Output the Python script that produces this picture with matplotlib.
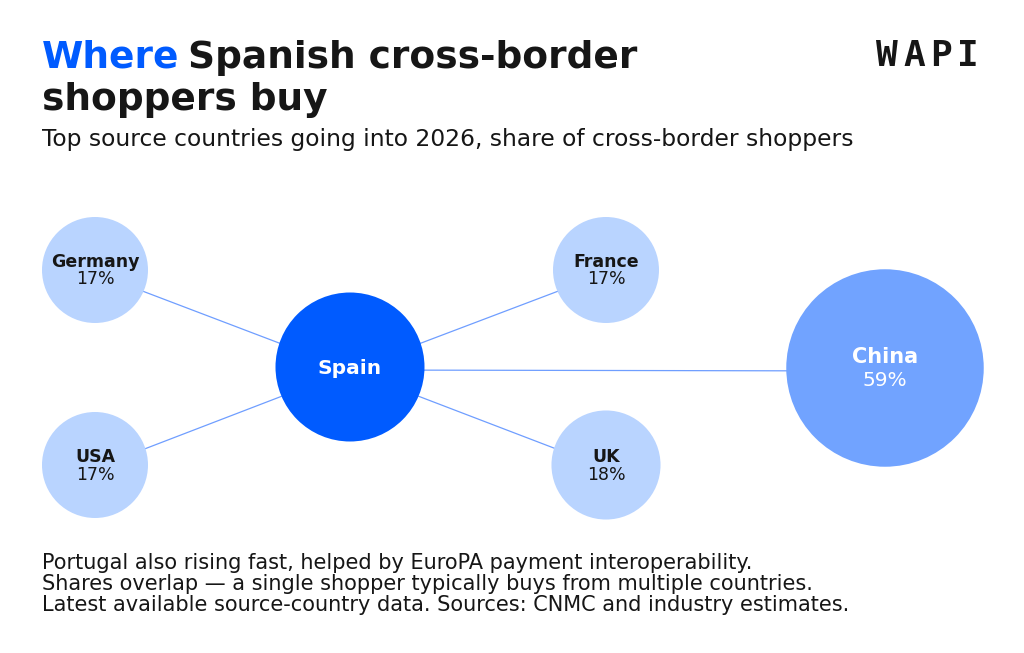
import numpy as np
import matplotlib.pyplot as plt
from matplotlib.patches import Circle

# data
hub = "Spain"
countries = ["Germany", "USA", "France", "UK", "China"]
shares = [17, 17, 17, 18, 59]

# layout (pixel space of the 1024x653 canvas)
node_xy = [(95, 270), (95, 465), (606, 270), (606, 465), (885, 368)]
hub_xy = (350, 367)
hub_r = 74.5
k = 53 / np.sqrt(17)  # bubble area ~ share

BLUE = "#005BFF"
MID = "#71A3FF"
LIGHT = "#B9D4FF"
INK = "#161616"

plt.rcParams["font.family"] = ["DejaVu Sans"]

fig = plt.figure(figsize=(10.24, 6.53), dpi=100)
ax = fig.add_axes([0, 0, 1, 1])
ax.set_xlim(0, 1024)
ax.set_ylim(653, 0)
ax.axis("off")

# links
for (x, y) in node_xy:
    ax.plot([hub_xy[0], x], [hub_xy[1] + 3, y + 3], color="#6F9EFF", lw=0.9, zorder=1)

# bubbles
for name, s, (x, y) in zip(countries, shares, node_xy):
    r = k * np.sqrt(s)
    big = s > 40
    ax.add_patch(Circle((x, y), r, color=MID if big else LIGHT, lw=0, zorder=2))
    tc = "white" if big else INK
    fs_n = 15 if big else 12.5
    fs_p = 14.5 if big else 12.5
    up, dn = (11, 13) if big else (8, 9.5)
    ax.text(x, y - up, name, ha="center", va="center", fontsize=fs_n,
            fontweight="bold", color=tc, zorder=3)
    ax.text(x, y + dn, f"{s}%", ha="center", va="center", fontsize=fs_p,
            color=tc, zorder=3)

ax.add_patch(Circle(hub_xy, hub_r, color=BLUE, lw=0, zorder=2))
ax.text(hub_xy[0], hub_xy[1] + 1, hub, ha="center", va="center", fontsize=14.5,
        fontweight="bold", color="white", zorder=3)

# title block
t1 = ax.text(42, 68, "Where", fontsize=27, fontweight="bold", color=BLUE,
             va="baseline")
fig.canvas.draw()
bb = t1.get_window_extent()
ax.text(42 + bb.width + 9, 68, "Spanish cross-border", fontsize=27,
        fontweight="bold", color=INK, va="baseline")
ax.text(42, 110, "shoppers buy", fontsize=27, fontweight="bold", color=INK,
        va="baseline")
ax.text(42, 146, "Top source countries going into 2026, share of cross-border shoppers",
        fontsize=16.8, color=INK, va="baseline")

# logo
for i, ch in enumerate("WAPI"):
    ax.text(887 + i * 27, 66, ch, fontsize=26, fontfamily="DejaVu Sans Mono",
            fontweight="bold", color=INK, ha="center", va="baseline")

notes = [
    "Portugal also rising fast, helped by EuroPA payment interoperability.",
    "Shares overlap \u2014 a single shopper typically buys from multiple countries.",
    "Latest available source-country data. Sources: CNMC and industry estimates.",
]
for i, line in enumerate(notes):
    ax.text(42, 569 + i * 21, line, fontsize=15, color=INK, va="baseline")

fig.savefig("out.png", dpi=100)
